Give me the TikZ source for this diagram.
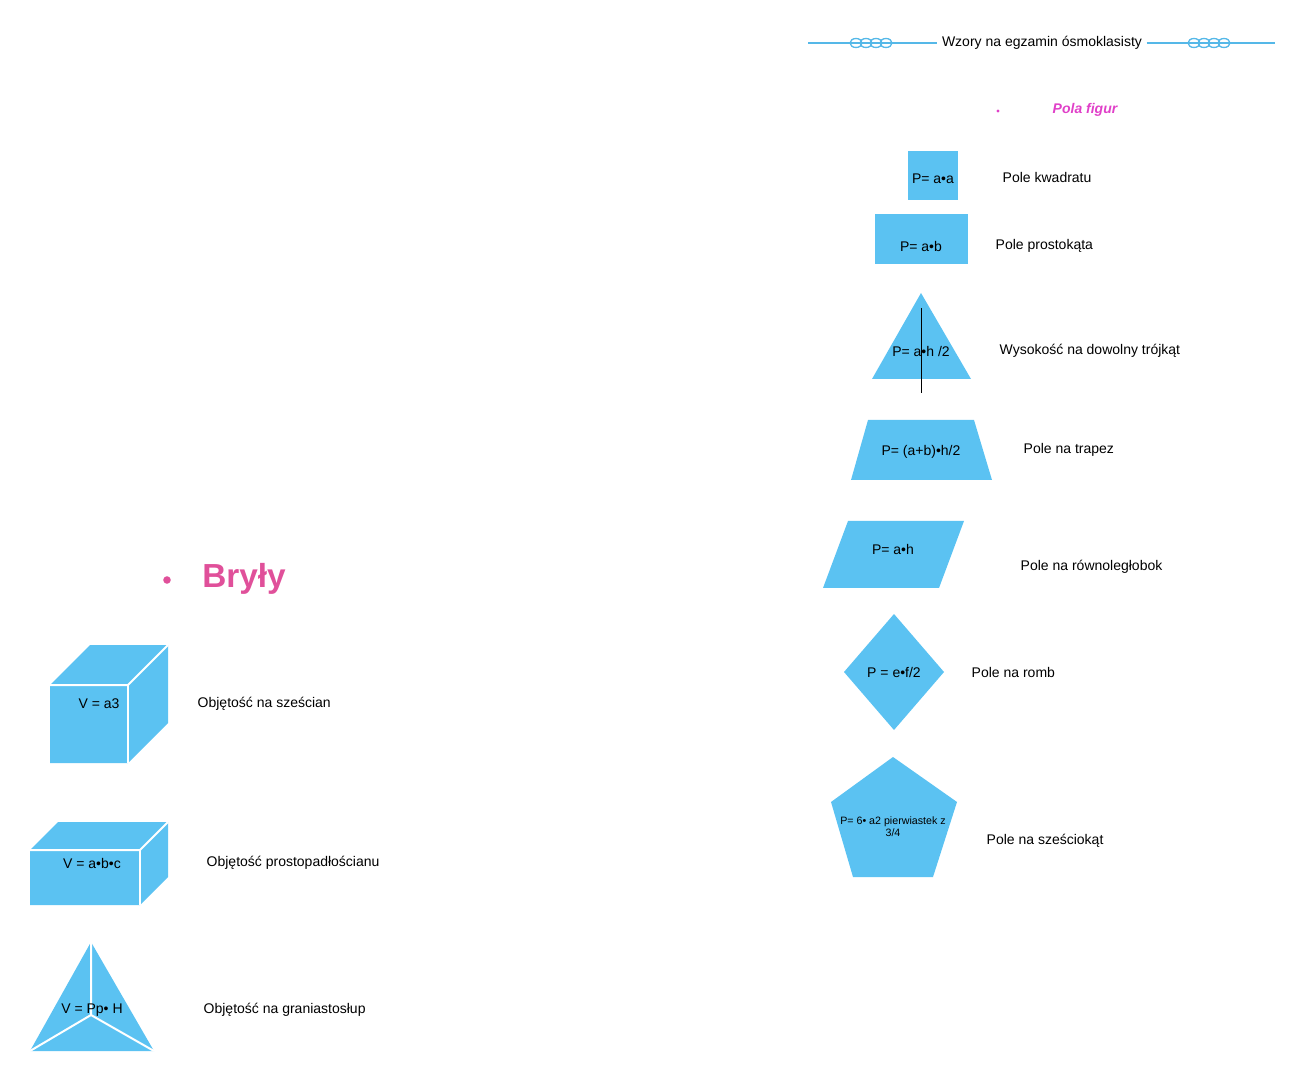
\documentclass[tikz,border=0pt]{standalone}
\usepackage{fontspec}
\setmainfont{Liberation Sans}
\definecolor{sb}{HTML}{5BC2F2}
\definecolor{pk}{HTML}{E0509A}
\definecolor{mg}{HTML}{E040C8}
\definecolor{ln}{HTML}{55B8E8}
\begin{document}
\begin{tikzpicture}[x=0.75pt,y=-0.75pt,
 shp/.style={fill=sb,draw=none},
 edge/.style={draw=white,line width=1.5pt},
 lbl/.style={anchor=west,font=\fontsize{10.5}{12}\selectfont},
 ftx/.style={font=\fontsize{10.5}{12}\selectfont},
 knot/.style={draw=ln,line width=1pt}]
\useasboundingbox (0,0) rectangle (1304,1080);
% header
\node[ftx] (hdr) at (1042,43) {Wzory na egzamin ósmoklasisty};
\coordinate (hl) at (808,43); \coordinate (hr) at (1275,43);
\draw[ln,line width=0.8pt] (hl) -- (hdr.west);
\draw[ln,line width=0.8pt] (hdr.east) -- (hr);
\foreach \cx in {850,1188}{
 \foreach \i in {0,1,2,3}{\draw[knot] (\cx+6+\i*10,43) ellipse (6 and 4.5);}
}
\node[circle,fill=mg,inner sep=0.9pt] (d1) at (998,111) {};
\node[font=\fontsize{10.5}{12}\selectfont\bfseries\itshape,text=mg] (pf) at (1085,110) {Pola figur};
% square
\fill[shp] (908,151) rectangle (958,200);
\node[ftx] (t1) at (933,179) {P= a•a};
\node[lbl] (l1) at (998,177) {Pole kwadratu};
% rectangle
\fill[shp] (875,214) rectangle (968,264);
\node[ftx] (t2) at (921,246) {P= a•b};
\node[lbl] (l2) at (991,246) {Pole prostokąta};
% triangle
\fill[shp] (921,293) -- (971,379) -- (872,379) -- cycle;
\node[ftx] (t3) at (921,351) {P= a•h /2};
\draw[black,line width=0.6pt] (921,308) -- (921,393);
\node[lbl] (l3) at (995,351) {Wysokość na dowolny trójkąt};
% trapezoid
\fill[shp] (868,420) -- (974,420) -- (992,480) -- (851,480) -- cycle;
\node[ftx] (t4) at (921,452) {P= (a+b)•h/2};
\node[lbl] (l4) at (1019,450) {Pole na trapez};
% parallelogram
\fill[shp] (848,521) -- (964,521) -- (939,588) -- (823,588) -- cycle;
\node[ftx] (t5) at (893,549) {P= a•h};
\node[lbl] (l5) at (1016,567) {Pole na równoległobok};
% diamond
\fill[shp] (894,614) -- (944,672) -- (894,730) -- (844,672) -- cycle;
\node[ftx] (t6) at (894,672) {P = e•f/2};
\node[lbl] (l6) at (967,672) {Pole na romb};
% pentagon
\fill[shp] (893,757) -- (957,802) -- (933,877) -- (853,877) -- (831,802) -- cycle;
\node[font=\fontsize{8}{9}\selectfont,align=center] (t7) at (893,827) {P= 6• a2 pierwiastek z\\3/4};
\node[lbl] (l7) at (982,841) {Pole na sześciokąt};
% Bryly
\node[circle,fill=pk,inner sep=2pt] (d2) at (167,580) {};
\node[font=\fontsize{25}{30}\selectfont\bfseries,text=pk] (br) at (244,579) {Bryły};
% cube
\fill[shp] (50,685) -- (90,645) -- (168,645) -- (168,723) -- (128,763) -- (50,763) -- cycle;
\draw[edge] (50,685) -- (128,685) -- (168,645);
\draw[edge] (128,685) -- (128,763);
\node[ftx] (c1) at (99,704) {V = a3};
\node[lbl] (c1l) at (193,704) {Objętość na sześcian};
% box
\fill[shp] (30,850) -- (58,822) -- (168,822) -- (168,877) -- (140,905) -- (30,905) -- cycle;
\draw[edge] (30,850) -- (140,850) -- (168,822);
\draw[edge] (140,850) -- (140,905);
\node[ftx] (c2) at (92,863) {V = a•b•c};
\node[lbl] (c2l) at (202,863) {Objętość prostopadłościanu};
% tetra
\fill[shp] (91,942) -- (154,1051) -- (30,1051) -- cycle;
\draw[edge] (91,942) -- (91,1015) -- (154,1051);
\draw[edge] (91,1015) -- (30,1051);
\node[ftx] (c3) at (92,1010) {V = Pp• H};
\node[lbl] (c3l) at (199,1010) {Objętość na graniastosłup};
\end{tikzpicture}
\end{document}
